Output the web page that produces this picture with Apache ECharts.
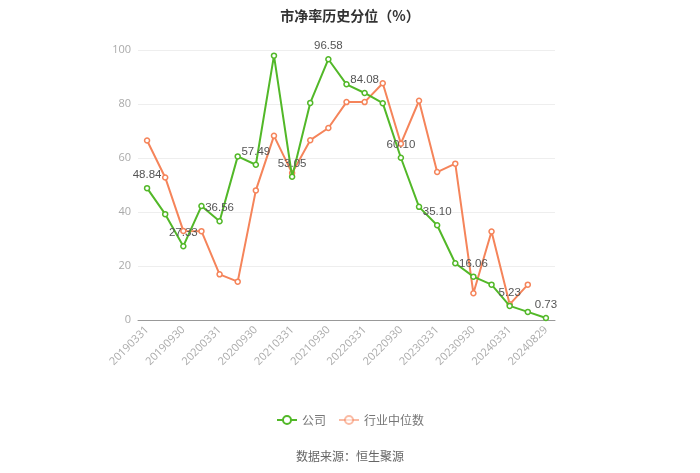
<!DOCTYPE html>
<html><head><meta charset="utf-8">
<script src="https://cdn.jsdelivr.net/npm/echarts@6/dist/echarts.min.js"></script>
<style>html,body{margin:0;padding:0;background:#fff}#c{width:700px;height:473px}</style>
</head><body><div id="c"></div>
<script>
var categories = ['20190331','20190630','20190930','20191231','20200331','20200630','20200930','20201231','20210331','20210630','20210930','20211231','20220331','20220630','20220930','20221231','20230331','20230630','20230930','20231231','20240331','20240630','20240829'];
var company = [48.84,39.2,27.33,42.2,36.56,60.6,57.49,97.9,53.05,80.4,96.58,87.3,84.08,80.3,60.10,41.9,35.10,21.0,16.06,13.1,5.23,3.0,0.73];
var industry = [66.5,52.8,33.0,32.9,16.9,14.2,48.0,68.2,54.4,66.6,71.1,80.7,80.7,87.7,65.3,81.2,54.8,57.9,9.9,32.8,5.8,13.1,null];
var yTicks = {min:0, max:100, interval:20};

var chart = echarts.init(document.getElementById('c'), null, {renderer:'canvas'});
chart.setOption({
  animation:false,
  title:{text:'市净率历史分位（%）', left:'center', top:4, textStyle:{fontSize:14, fontWeight:'bold', color:'#333', fontFamily:'Noto Sans CJK SC'}},
  legend:{top:409, left:'center', itemWidth:20, itemHeight:10, itemGap:12, textStyle:{color:'#777', fontSize:12, fontFamily:'Noto Sans CJK SC'},
    data:[{name:'公司'},{name:'行业中位数', itemStyle:{opacity:0.55}, lineStyle:{opacity:0.55}}]},
  graphic:[{type:'text', left:'center', top:450, style:{text:'数据来源：恒生聚源', fill:'#666', fontSize:12, fontFamily:'Noto Sans CJK SC'}}],
  grid:{left:138, right:145, top:50, bottom:153},
  xAxis:{type:'category', data:categories, boundaryGap:true,
    axisLine:{lineStyle:{color:'#999'}},
    axisTick:{alignWithLabel:true, interval:1, lineStyle:{color:'#999'}},
    axisLabel:{interval:1, rotate:45, color:'#aaa', fontSize:11, fontFamily:'Open Sans'}},
  yAxis:{type:'value', min:yTicks.min, max:yTicks.max, interval:yTicks.interval,
    axisLine:{show:false}, axisTick:{show:false},
    axisLabel:{color:'#aaa', fontSize:11, fontFamily:'Open Sans', margin:7},
    splitLine:{lineStyle:{color:'#eee'}}},
  series:[
    {name:'公司', type:'line', data:company, symbol:'circle', symbolSize:5,
      itemStyle:{color:'#fff', borderColor:'#52b828', borderWidth:1.5}, lineStyle:{width:2, color:'#52b828'},
      label:{show:true, position:'top', distance:4, color:'#555', fontSize:11.5, fontFamily:'Liberation Sans',
        formatter:function(p){return p.dataIndex%2===0 ? p.value.toFixed(2) : '';}},
      z:3},
    {name:'行业中位数', type:'line', data:industry, symbol:'circle', symbolSize:5,
      itemStyle:{color:'#fff', borderColor:'#f5845a', borderWidth:1.5}, lineStyle:{width:2, color:'#f5845a'}, z:2}
  ]
});
</script></body></html>
